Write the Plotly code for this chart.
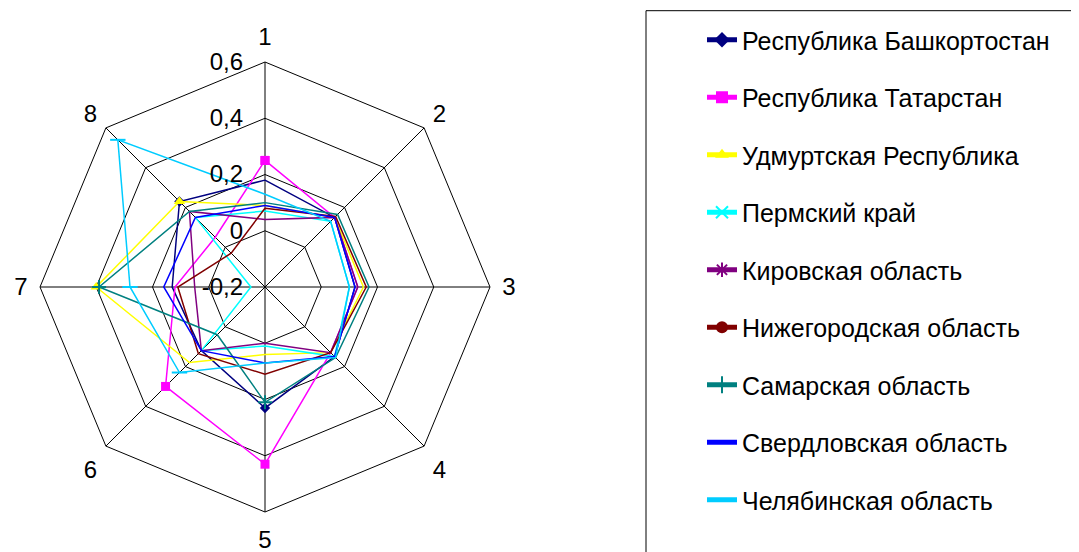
import plotly.graph_objects as go

categories = ["1", "2", "3", "4", "5", "6", "7", "8"]

series_names = [
    "Республика Башкортостан",
    "Республика Татарстан",
    "Удмуртская Республика",
    "Пермский край",
    "Кировская область",
    "Нижегородская область",
    "Самарская область",
    "Свердловская область",
    "Челябинская область",
]

bashkortostan = [0.18, 0.15, 0.12, 0.15, 0.23, 0.12, 0.13, 0.23]
tatarstan     = [0.25, 0.15, 0.13, 0.13, 0.43, 0.30, 0.12, 0.05]
udmurtia      = [0.09, 0.15, 0.15, 0.13, 0.04, 0.18, 0.40, 0.23]
perm          = [0.07, 0.13, 0.10, 0.15, 0.01, 0.12, -0.15, 0.15]
kirov         = [0.04, 0.15, 0.13, 0.13, 0.00, 0.12, 0.05, 0.18]
nizhny        = [0.08, 0.155, 0.16, 0.13, 0.11, 0.135, 0.11, -0.03]
samara        = [0.10, 0.165, 0.17, 0.155, 0.21, 0.04, 0.39, 0.18]
sverdlovsk    = [0.09, 0.15, 0.12, 0.15, 0.07, 0.12, 0.16, 0.15]
chelyabinsk   = [0.13, 0.13, 0.10, 0.155, 0.07, 0.23, 0.28, 0.54]

series_values = [bashkortostan, tatarstan, udmurtia, perm, kirov,
                 nizhny, samara, sverdlovsk, chelyabinsk]

colors = ["#000080", "#FF00FF", "#FFFF00", "#00FFFF", "#800080",
          "#800000", "#008080", "#0000FF", "#00CCFF"]
symbols = ["diamond", "square", "triangle-up", "x-thin-open", "asterisk-open",
           "circle", "cross-thin-open", "line-ew-open", "line-ew-open"]
msizes = [8, 9, 10, 9, 10, 9, 10, 7, 11]

radial_ticks = [-0.2, 0, 0.2, 0.4, 0.6]
radial_labels = ["-0,2", "0", "0,2", "0,4", "0,6"]

FONT = "Liberation Sans, Arial, sans-serif"

fig = go.Figure()
for name, vals, c, s, ms in zip(series_names, series_values, colors, symbols, msizes):
    open_sym = s.endswith("-open")
    fig.add_trace(go.Scatterpolar(
        r=vals + [vals[0]],
        theta=categories + [categories[0]],
        mode="lines+markers",
        name=name,
        legendgroup=name,
        line=dict(color=c, width=1.5),
        marker=dict(symbol=s, size=ms, color=c,
                    line=dict(color=c, width=2 if open_sym else 0)),
    ))

W, H = 1079, 552
OFF = 8  # page body margin
cx, cy, R = 265 - OFF, 287 - OFF, 225
fig.update_layout(
    width=W, height=H,
    margin=dict(l=0, r=0, t=0, b=0),
    paper_bgcolor="white",
    plot_bgcolor="white",
    font=dict(family=FONT, size=24, color="black"),
    showlegend=True,
    polar=dict(
        domain=dict(x=[(cx - R) / W, (cx + R) / W],
                    y=[(H - cy - R) / H, (H - cy + R) / H]),
        bgcolor="white",
        gridshape="linear",
        radialaxis=dict(
            range=[-0.2, 0.6],
            tickvals=radial_ticks,
            ticktext=radial_labels,
            angle=90,
            tickangle=90,
            side="counterclockwise",
            showline=False,
            gridcolor="black",
            gridwidth=1,
            ticks="outside",
            ticklen=13,
            tickcolor="rgba(0,0,0,0)",
            tickfont=dict(size=24, family=FONT, color="black"),
        ),
        angularaxis=dict(
            type="category",
            categoryarray=categories,
            direction="clockwise",
            rotation=90,
            showline=True,
            linecolor="black",
            linewidth=1,
            gridcolor="black",
            gridwidth=1,
            ticks="outside",
            ticklen=7,
            tickcolor="rgba(0,0,0,0)",
            tickfont=dict(size=24, family=FONT, color="black"),
        ),
    ),
    legend=dict(
        x=(743 - OFF - 41) / W, y=1 - 9 / H, xanchor="left", yanchor="top",
        bgcolor="rgba(0,0,0,0)",
        borderwidth=0,
        font=dict(size=25, family=FONT, color="black"),
        tracegroupgap=22,
        itemsizing="constant",
    ),
    shapes=[dict(type="rect", xref="paper", yref="paper",
                 x0=(646 - OFF) / W, x1=1.05, y0=-0.1, y1=1 - (10.7 - OFF) / H,
                 line=dict(color="black", width=1), fillcolor="rgba(0,0,0,0)")],
)

fig.write_html("out.html")
